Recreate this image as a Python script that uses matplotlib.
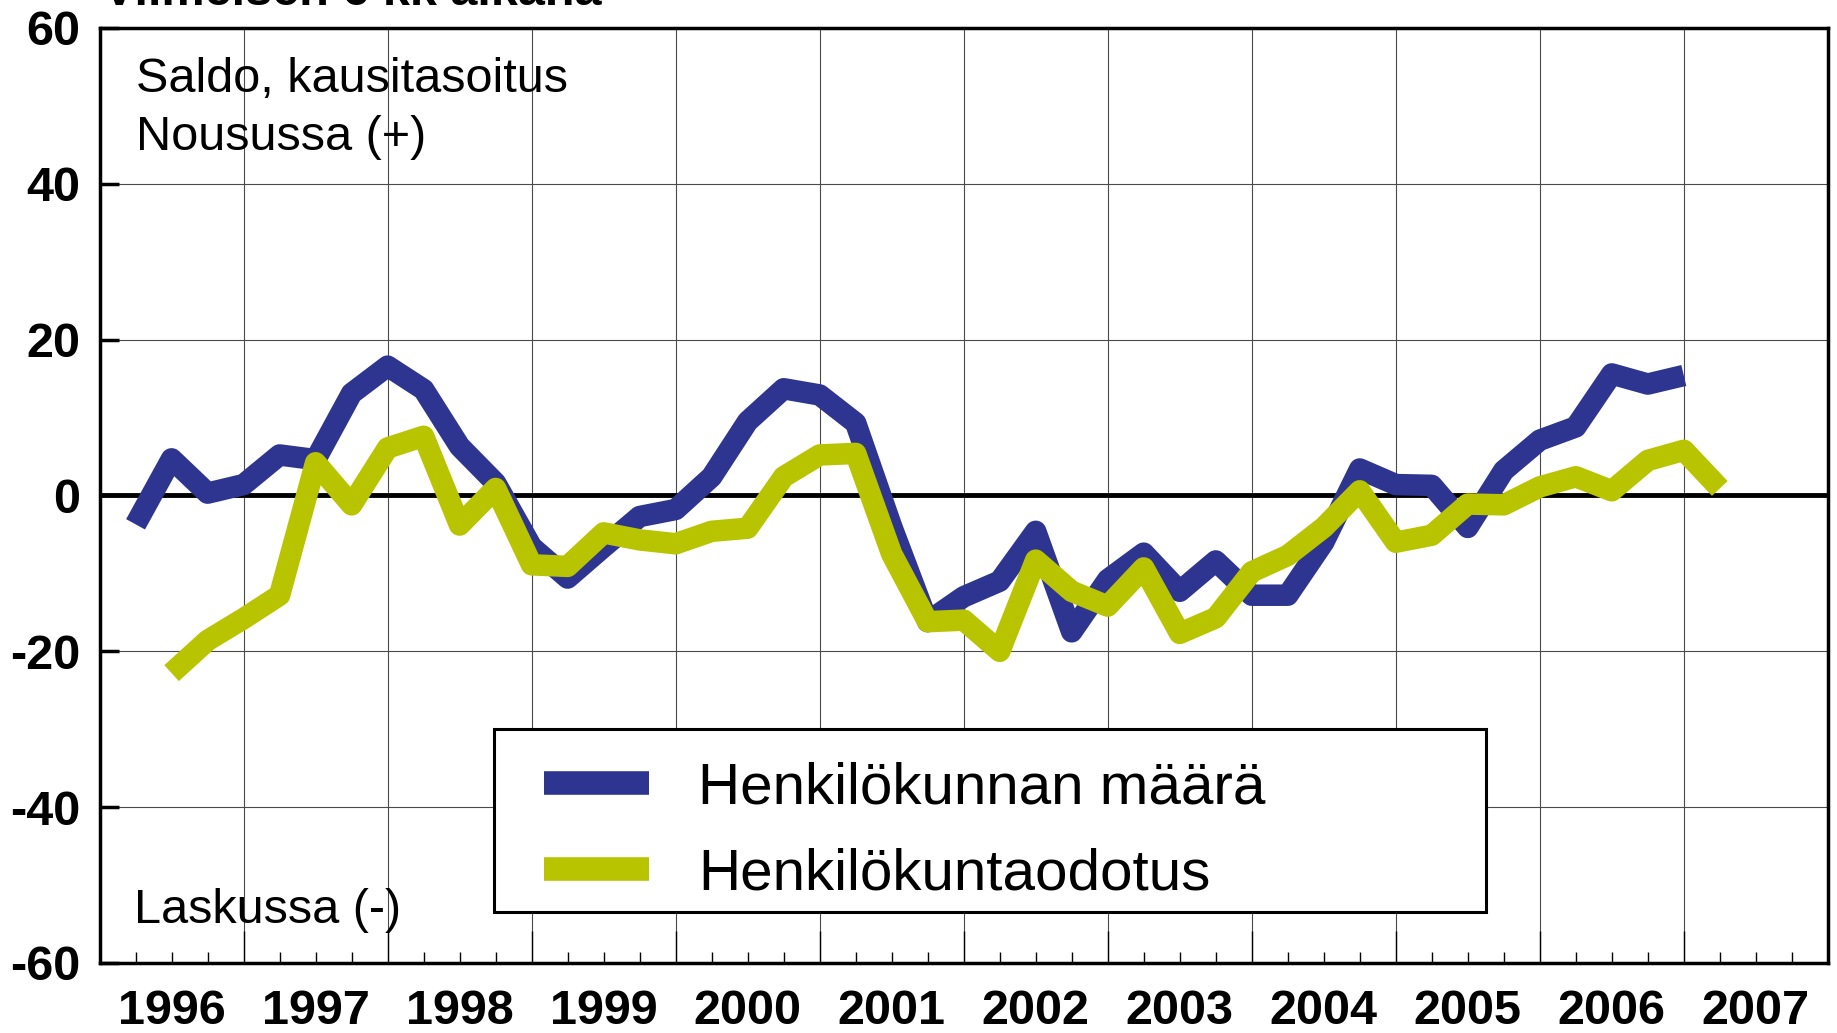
import numpy as np
import matplotlib
matplotlib.use("Agg")
import matplotlib.pyplot as plt
from matplotlib.lines import Line2D
from matplotlib.patches import Rectangle

plt.rcParams["font.family"] = ["Liberation Sans", "DejaVu Sans"]
plt.rcParams["axes.unicode_minus"] = False

BLUE = "#2e3590"
GREEN = "#b9c400"

# quarterly balance figures, seasonally adjusted
blue_start = 1996.25
blue_values = [-3.7, 4.7, 0.3,
               1.4, 5.2, 4.6, 13.1,
               16.6, 13.6, 6.3, 1.6,
               -6.6, -10.6, -6.6, -2.7,
               -1.8, 2.4, 9.5, 13.7,
               12.9, 9.3, -4.0, -16.2,
               -13.0, -11.0, -4.6, -17.5,
               -10.8, -7.4, -12.3, -8.4,
               -12.8, -12.8, -6.0, 3.4,
               1.4, 1.3, -4.1, 3.2,
               7.1, 8.8, 15.6, 14.3,
               15.4]
green_start = 1996.5
green_values = [-22.8, -18.6,
                -15.8, -12.8, 4.2, -1.2,
                6.1, 7.6, -3.8, 0.9,
                -8.9, -9.1, -4.8, -5.7,
                -6.2, -4.6, -4.2, 2.4,
                5.2, 5.4, -7.5, -16.2,
                -16.0, -20.0, -8.3, -12.3,
                -14.2, -9.3, -17.7, -15.7,
                -9.8, -7.7, -4.1, 0.6,
                -6.0, -5.1, -1.1, -1.2,
                1.1, 2.4, 0.6, 4.5,
                5.8, 0.9]
series_labels = ["Henkilökunnan määrä", "Henkilökuntaodotus"]
years = list(range(1996, 2008))
y_ticks = [-60, -40, -20, 0, 20, 40, 60]


def main():
    fig = plt.figure(figsize=(18.37, 10.33), dpi=100)
    ax = fig.add_axes([0.0542, 0.0678, 0.9408, 0.9051])

    blue_x = blue_start + np.arange(len(blue_values)) * 0.25
    green_x = green_start + np.arange(len(green_values)) * 0.25

    ax.plot(blue_x, blue_values, color=BLUE, lw=15.5,
            solid_capstyle="butt", solid_joinstyle="round", zorder=3)
    ax.plot(green_x, green_values, color=GREEN, lw=15.5,
            solid_capstyle="butt", solid_joinstyle="round", zorder=3.1)

    ax.axhline(0, color="black", lw=3.5, zorder=2.5)

    ax.set_xlim(1996, 2008)
    ax.set_ylim(-60, 60)

    # grid
    ax.set_xticks(np.arange(1996, 2009))
    ax.set_xticklabels([])
    ax.set_xticks(np.arange(1996, 2008.01, 0.25), minor=True)
    ax.grid(axis="x", which="major", color="#4a4a4a", lw=0.8, zorder=1)
    for v in [-40, -20, 20, 40]:
        ax.axhline(v, color="#4a4a4a", lw=0.8, zorder=1)

    ax.tick_params(axis="x", which="major", direction="in", length=23,
                   width=1.0, color="black")
    ax.tick_params(axis="x", which="minor", direction="in", length=8,
                   width=1.0, color="black")

    ax.set_yticks(y_ticks)
    ax.set_yticklabels([str(v) for v in y_ticks], fontsize=35,
                       fontweight="bold")
    ax.tick_params(axis="y", direction="in", length=14, width=2.5, pad=14)
    ax.yaxis.set_minor_locator(matplotlib.ticker.NullLocator())

    sec = ax.secondary_xaxis("bottom")
    sec.set_xticks([y + 0.5 for y in years])
    sec.set_xticklabels([str(y) for y in years], fontsize=35,
                        fontweight="bold")
    sec.tick_params(length=0, pad=19)
    sec.spines["bottom"].set_visible(False)

    for s in ax.spines.values():
        s.set_linewidth(2.5)
        s.set_zorder(6)

    # annotations
    ax.text(0.021, 0.9316, "Saldo, kausitasoitus", transform=ax.transAxes,
            fontsize=35, va="baseline", ha="left", zorder=4)
    ax.text(0.021, 0.8695, "Nousussa (+)", transform=ax.transAxes,
            fontsize=35, va="baseline", ha="left", zorder=4)
    ax.text(0.020, 0.0428, "Laskussa (-)", transform=ax.transAxes,
            fontsize=35, va="baseline", ha="left", zorder=4)

    fig.text(0.056, 1 - 5 / 1033, "Viimeisen 6 kk aikana", fontsize=35,
             fontweight="bold", va="baseline", ha="left")

    # legend box
    box = Rectangle((0.228, 0.0545), 0.574, 0.1955, transform=ax.transAxes,
                    facecolor="white", edgecolor="black", lw=2.2, zorder=4.5)
    ax.add_patch(box)
    handles = [Line2D([], [], color=BLUE, lw=17, solid_capstyle="butt"),
               Line2D([], [], color=GREEN, lw=17, solid_capstyle="butt")]
    leg = ax.legend(handles, series_labels, loc="upper left",
                    bbox_to_anchor=(0.2572, 0.216), frameon=False,
                    fontsize=42, handlelength=1.8, handletextpad=0.84,
                    borderpad=0, borderaxespad=0, labelspacing=0.56)
    leg.set_zorder(5)

    fig.savefig("out.png", dpi=100)
    plt.close(fig)


if __name__ == "__main__":
    main()
